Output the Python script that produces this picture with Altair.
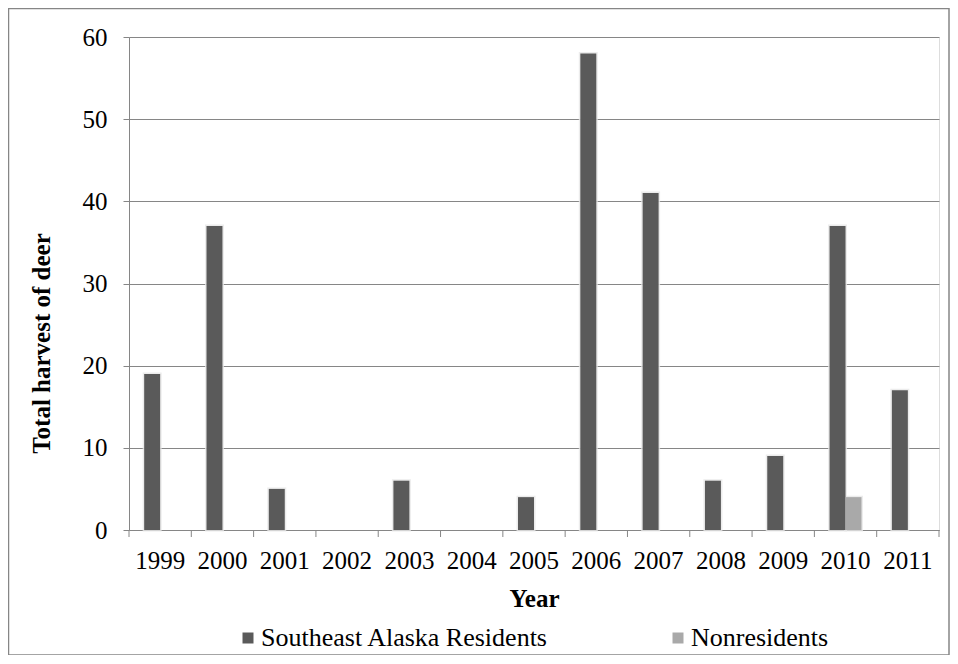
import altair as alt
import pandas as pd

years = ["1999", "2000", "2001", "2002", "2003", "2004", "2005",
         "2006", "2007", "2008", "2009", "2010", "2011"]
residents = [19, 37, 5, 0, 6, 0, 4, 58, 41, 6, 9, 37, 17]
nonresidents = [0, 0, 0, 0, 0, 0, 0, 0, 0, 0, 0, 4, 0]
series = ["Southeast Alaska Residents", "Nonresidents"]
colors = ["#5a5a5a", "#a9a9a9"]

rows = []
for i, y in enumerate(years):
    rows.append({"Year": y, "Group": series[0], "Harvest": residents[i]})
    rows.append({"Year": y, "Group": series[1], "Harvest": nonresidents[i]})
df = pd.DataFrame(rows)

W, H = 810, 493
FONT = "Liberation Serif"
GRAY = "#868686"

xenc = alt.X("Year:N", sort=years, scale=alt.Scale(paddingInner=0, paddingOuter=0),
             axis=alt.Axis(title="Year", labelAngle=0, ticks=False, domainColor=GRAY,
                           labelPadding=18, titlePadding=13, labelFontSize=25,
                           titleFontSize=25, titleFontWeight="bold", labelColor="#000",
                           titleColor="#000", labelFont=FONT, titleFont=FONT))
yenc = alt.Y("Harvest:Q", scale=alt.Scale(domain=[0, 60]),
             axis=alt.Axis(title="Total harvest of deer", values=[0, 10, 20, 30, 40, 50, 60],
                           grid=True, gridColor=GRAY, domainColor=GRAY, tickColor=GRAY,
                           tickSize=6, labelPadding=16, titlePadding=28, labelFontSize=25,
                           titleFontSize=25, titleFontWeight="bold", labelColor="#000",
                           titleColor="#000", labelFont=FONT, titleFont=FONT, titleY=306))
xoff = alt.XOffset("Group:N", sort=series, scale=alt.Scale(paddingInner=0, paddingOuter=0.95))

shadow = alt.Chart(df).transform_filter("datum.Harvest > 0").mark_bar(
    fill="#d4d4d4", stroke="#e8e8e8", strokeWidth=3, xOffset=2, opacity=0.8
).encode(x=xenc, xOffset=xoff, y=yenc)

bars = alt.Chart(df).mark_bar().encode(
    x=xenc, xOffset=xoff, y=yenc,
    color=alt.Color("Group:N", sort=series,
                    scale=alt.Scale(domain=series, range=colors),
                    legend=alt.Legend(title=None, orient="none", direction="horizontal",
                                      legendX=106, legendY=588, padding=0,
                                      symbolType="square", symbolSize=121,
                                      symbolStrokeWidth=0, labelFontSize=26,
                                      labelFont=FONT, labelColor="#000", labelOffset=0,
                                      columnPadding=116, labelLimit=400))
)

ticks = alt.Chart(pd.DataFrame({"Year": years})).mark_rule(color=GRAY, strokeWidth=1).encode(
    x=alt.X("Year:N", sort=years, bandPosition=0),
    y=alt.value(H), y2=alt.value(H + 7)
)
end_tick = alt.Chart(pd.DataFrame({"a": [0]})).mark_rule(color=GRAY, strokeWidth=1).encode(
    x=alt.value(W), y=alt.value(H), y2=alt.value(H + 7)
)
border = alt.Chart(pd.DataFrame({"a": [0]})).mark_rect(
    fill=None, stroke=GRAY, strokeWidth=1.5
).encode(x=alt.value(-120.5), x2=alt.value(820), y=alt.value(-28.5), y2=alt.value(618))

chart = alt.layer(border, shadow, bars, ticks, end_tick).properties(
    width=W, height=H, padding={"left": 121, "top": 29, "right": 11, "bottom": 125},
    autosize=alt.AutoSizeParams(type="none")
).configure_view(stroke=None).configure(font=FONT).configure_axis(
    labelFont=FONT, titleFont=FONT
).configure_legend(labelFont=FONT)

chart.save("out.html", embed_options={"renderer": "svg", "actions": False})
